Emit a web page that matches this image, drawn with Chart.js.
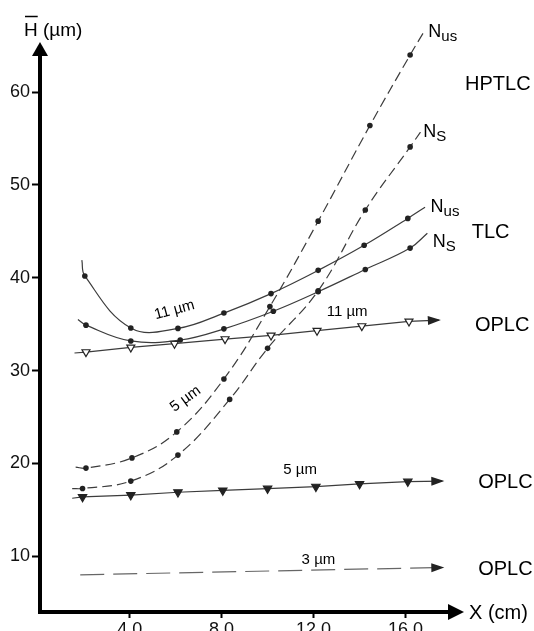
<!DOCTYPE html>
<html>
<head>
<meta charset="utf-8">
<script src="https://cdn.jsdelivr.net/npm/chart.js@4/dist/chart.umd.min.js"></script>
<style>
  html, body { margin: 0; padding: 0; background: #fff; }
  canvas { display: block; }
</style>
</head>
<body>
<canvas id="chart" width="534" height="631"></canvas>
<script>
// ----------------------------------------------------------------
//  Veriler
// ----------------------------------------------------------------
const xTicks = [4, 8, 12, 16];
const yTicks = [10, 20, 30, 40, 50, 60];

// HPTLC - kesikli eğriler
const hptlcNusX = [1.65, 2.1, 4.1, 6.05, 8.1, 10.1, 12.2, 14.45, 16.2, 16.8];
const hptlcNusY = [19.6, 19.5, 20.6, 23.4, 29.1, 36.9, 46.1, 56.4, 64.0, 66.5];
const hptlcNsX  = [1.5, 1.95, 4.05, 6.1, 8.35, 10.0, 12.2, 14.25, 16.2, 16.65];
const hptlcNsY  = [17.3, 17.3, 18.1, 20.9, 26.9, 32.4, 38.6, 47.3, 54.1, 55.7];

// TLC - düz eğriler
const tlcNusX = [1.92, 2.05, 4.05, 6.1, 8.1, 10.15, 12.2, 14.2, 16.1, 16.85];
const tlcNusY = [41.9, 40.2, 34.6, 34.55, 36.2, 38.3, 40.8, 43.5, 46.4, 47.6];
const tlcNsX  = [1.75, 2.1, 4.05, 6.2, 8.1, 10.25, 12.2, 14.25, 16.2, 16.95];
const tlcNsY  = [35.5, 34.9, 33.2, 33.3, 34.5, 36.4, 38.5, 40.9, 43.2, 44.8];

// OPLC - doğrular
const oplc11X = [1.6, 2.1, 4.05, 5.95, 8.15, 10.15, 12.15, 14.1, 16.15, 17.45];
const oplc11Y = [31.9, 32.0, 32.5, 32.9, 33.4, 33.8, 34.3, 34.8, 35.3, 35.45];
const oplc5X  = [1.5, 1.95, 4.05, 6.1, 8.05, 10.0, 12.1, 14.0, 16.1, 17.6];
const oplc5Y  = [16.25, 16.4, 16.6, 16.9, 17.1, 17.3, 17.5, 17.8, 18.05, 18.1];
const oplc3X  = [1.85, 17.6];
const oplc3Y  = [8.0, 8.8];

const pts = (xs, ys) => xs.map((x, i) => ({ x, y: ys[i] }));
// ilk ve son nokta sadece çizginin uzantısı, işaretsiz
const ends0 = (n, r) => Array.from({ length: n }, (_, i) => (i === 0 || i === n - 1) ? 0 : r);

const INK  = '#222';
const LINE = '#3c3c3c';

const curve = (xs, ys, dash) => ({
  data: pts(xs, ys),
  showLine: true,
  borderColor: LINE,
  borderWidth: 1.2,
  borderDash: dash,
  tension: 0.4,
  pointStyle: 'circle',
  pointRadius: ends0(xs.length, 2.8),
  pointBackgroundColor: INK,
  pointBorderColor: INK,
  pointBorderWidth: 0,
  clip: false,
});

const straight = (xs, ys, fill, dash, r) => ({
  data: pts(xs, ys),
  showLine: true,
  borderColor: LINE,
  borderWidth: 1.2,
  borderDash: dash,
  tension: 0,
  pointStyle: 'triangle',
  rotation: 180,
  pointRadius: ends0(xs.length, r),
  pointBackgroundColor: fill,
  pointBorderColor: INK,
  pointBorderWidth: 1.2,
  clip: false,
  arrow: true,
});

// ----------------------------------------------------------------
//  Eksenler, ok uçları ve yazılar
// ----------------------------------------------------------------
const FONT = '"Liberation Sans", Arial, sans-serif';

const decorPlugin = {
  id: 'decor',
  afterDraw(chart) {
    const { ctx, chartArea: a, scales } = chart;
    const X = v => scales.x.getPixelForValue(v);
    const Y = v => scales.y.getPixelForValue(v);
    ctx.save();

    // çizgi sonlarındaki ok uçları
    chart.data.datasets.forEach((ds, i) => {
      if (!ds.arrow) return;
      const el = chart.getDatasetMeta(i).data;
      const p1 = el[el.length - 2], p2 = el[el.length - 1];
      const ang = Math.atan2(p2.y - p1.y, p2.x - p1.x);
      ctx.save();
      ctx.translate(p2.x, p2.y);
      ctx.rotate(ang);
      ctx.fillStyle = INK;
      ctx.beginPath();
      ctx.moveTo(2, 0);
      ctx.lineTo(-11, -4.5);
      ctx.lineTo(-11, 4.5);
      ctx.closePath();
      ctx.fill();
      ctx.restore();
    });

    // kalın eksenler
    ctx.strokeStyle = '#000';
    ctx.fillStyle = '#000';
    ctx.lineWidth = 4;
    ctx.beginPath();
    ctx.moveTo(a.left, a.bottom + 2);
    ctx.lineTo(a.left, a.top + 12);
    ctx.moveTo(a.left - 2, a.bottom);
    ctx.lineTo(a.right - 12, a.bottom);
    ctx.stroke();
    ctx.beginPath();
    ctx.moveTo(a.left, a.top);
    ctx.lineTo(a.left - 8, a.top + 14);
    ctx.lineTo(a.left + 8, a.top + 14);
    ctx.closePath();
    ctx.fill();
    ctx.beginPath();
    ctx.moveTo(a.right + 1, a.bottom);
    ctx.lineTo(a.right - 15, a.bottom - 8);
    ctx.lineTo(a.right - 15, a.bottom + 8);
    ctx.closePath();
    ctx.fill();

    // eksen başlıkları
    ctx.textBaseline = 'alphabetic';
    ctx.textAlign = 'left';
    ctx.font = `19px ${FONT}`;
    ctx.fillText('H (µm)', 24, 36);
    const hw = ctx.measureText('H').width;
    ctx.lineWidth = 1.5;
    ctx.beginPath();
    ctx.moveTo(25, 16.5);
    ctx.lineTo(24 + hw, 16.5);
    ctx.stroke();
    ctx.font = `20px ${FONT}`;
    ctx.fillText('X (cm)', 469, 619);

    // N alt indisli etiketler
    const nLabel = (x, y, sub) => {
      ctx.font = `18px ${FONT}`;
      ctx.fillText('N', X(x), Y(y));
      const w = ctx.measureText('N').width;
      ctx.font = `15px ${FONT}`;
      ctx.fillText(sub, X(x) + w, Y(y) + 4);
    };
    nLabel(16.99, 65.97, 'us');
    nLabel(16.77, 55.2, 'S');
    nLabel(17.09, 47.09, 'us');
    nLabel(17.18, 43.35, 'S');

    ctx.font = `20px ${FONT}`;
    ctx.fillText('HPTLC', X(18.59), Y(60.23));
    ctx.fillText('TLC', X(18.88), Y(44.26));
    ctx.fillText('OPLC', X(19.02), Y(34.3));
    ctx.fillText('OPLC', X(19.16), Y(17.33));
    ctx.fillText('OPLC', X(19.16), Y(7.99));

    ctx.font = `15px ${FONT}`;
    ctx.fillText('11 µm', X(12.57), Y(35.89));
    ctx.fillText('5 µm', X(10.68), Y(18.87));
    ctx.fillText('3 µm', X(11.48), Y(9.17));

    // eğri üzerindeki eğik yazılar
    const tilted = (text, x, y, deg) => {
      ctx.save();
      ctx.translate(X(x), Y(y));
      ctx.rotate(deg * Math.PI / 180);
      ctx.textAlign = 'center';
      ctx.textBaseline = 'middle';
      ctx.fillText(text, 0, 0);
      ctx.restore();
    };
    tilted('11 µm', 5.95, 36.53, -15);
    tilted('5 µm', 6.43, 26.95, -36);

    ctx.restore();
  }
};

// ----------------------------------------------------------------
//  Grafik
// ----------------------------------------------------------------
new Chart(document.getElementById('chart'), {
  type: 'scatter',
  data: {
    datasets: [
      curve(hptlcNusX, hptlcNusY, [10, 5]),
      curve(hptlcNsX, hptlcNsY, [10, 5]),
      curve(tlcNusX, tlcNusY, []),
      curve(tlcNsX, tlcNsY, []),
      straight(oplc11X, oplc11Y, '#fff', [], 4.6),
      straight(oplc5X, oplc5Y, INK, [], 4.8),
      { ...straight(oplc3X, oplc3Y, INK, [24, 9], 0), borderColor: '#666', pointRadius: 0 },
    ]
  },
  options: {
    responsive: false,
    animation: false,
    layout: { padding: { left: 0, top: 42, right: 71, bottom: 0 } },
    plugins: { legend: { display: false }, tooltip: { enabled: false } },
    scales: {
      x: {
        type: 'linear',
        min: 0.1,
        max: 18.5,
        border: { display: false },
        grid: { drawOnChartArea: false, tickLength: 6, tickWidth: 2, tickColor: '#000' },
        ticks: {
          color: '#111',
          padding: 1,
          font: { size: 18, family: FONT },
          callback: v => v.toFixed(1),
        },
        afterBuildTicks: s => { s.ticks = xTicks.map(v => ({ value: v })); },
        afterFit: s => { s.height = 19; },
      },
      y: {
        type: 'linear',
        min: 4,
        max: 65.4,
        border: { display: false },
        grid: { drawOnChartArea: false, tickLength: 8, tickWidth: 2, tickColor: '#000' },
        ticks: {
          color: '#111',
          padding: 2,
          font: { size: 18, family: FONT },
          callback: v => String(v),
        },
        afterBuildTicks: s => { s.ticks = yTicks.map(v => ({ value: v })); },
        afterFit: s => { s.width = 40; },
      }
    }
  },
  plugins: [decorPlugin]
});
</script>
</body>
</html>
